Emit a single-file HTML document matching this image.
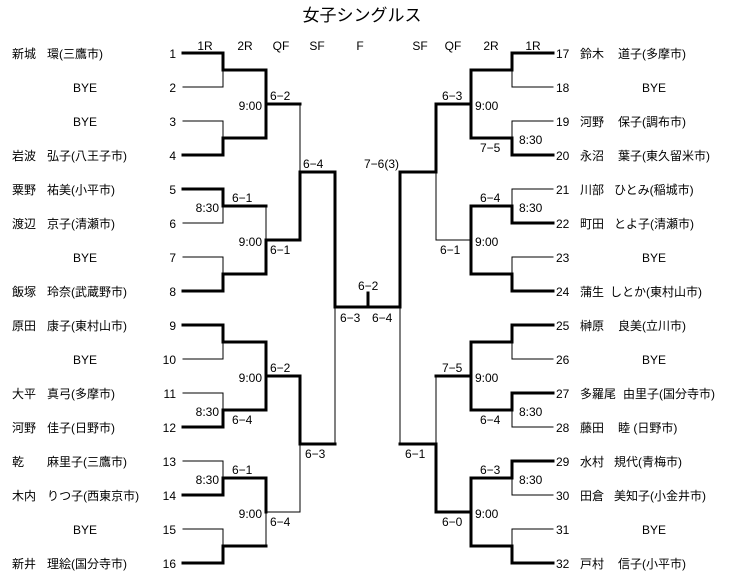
<!DOCTYPE html>
<html><head><meta charset="utf-8"><style>
html,body{margin:0;padding:0;background:#fff;}
svg{display:block;}
text{font-family:"Liberation Sans","Noto Sans CJK JP",sans-serif;font-size:12px;fill:#000;}
.t{font-size:17px;}
</style></head><body>
<svg width="734" height="586" viewBox="0 0 734 586" xmlns="http://www.w3.org/2000/svg">
<text class="t" x="362" y="21" text-anchor="middle">女子シングルス</text>
<g text-anchor="middle">
<text x="205" y="50">1R</text><text x="245" y="50">2R</text><text x="281" y="50">QF</text><text x="317" y="50">SF</text><text x="360" y="50">F</text>
<text x="420" y="50">SF</text><text x="453" y="50">QF</text><text x="491" y="50">2R</text><text x="533" y="50">1R</text>
</g>
<g stroke="#000" fill="none" stroke-linecap="square" shape-rendering="crispEdges">
<g stroke-width="3">
<path d="M183 53H223M183 155H223M183 189H223M183 291H223M183 325H223M183 427H223M183 495H223M183 563H223"/>
<path d="M223 53V70M223 138V155M223 189V206M223 274V291M223 325V342M223 410V427M223 478V495M223 546V563"/>
<path d="M223 70H266M223 138H266M223 206H266M223 274H266M223 342H266M223 410H266M223 478H266M223 546H266"/>
<path d="M266 70V138M266 240V274M266 342V410M266 478V512"/>
<path d="M266 104H300M266 240H300M266 376H300"/>
<path d="M300 172V240M300 376V444M300 172H335M300 444H335M335 172V307M335 307H400M368 293V307"/>
</g>
<g stroke-width="1">
<path d="M183 87H223M183 121H223M183 223H223M183 257H223M183 359H223M183 393H223M183 461H223M183 529H223"/>
<path d="M223 70V87M223 121V138M223 206V223M223 257V274M223 342V359M223 393V410M223 461V478M223 529V546"/>
<path d="M266 206V240M266 512V546M266 512H300M300 104V172M300 444V512M335 307V444"/>
</g>
<g stroke-width="3">
<path d="M512 53H553M512 155H553M512 223H553M512 291H553M512 325H553M512 393H553M512 461H553M512 563H553"/>
<path d="M512 53V70M512 138V155M512 206V223M512 274V291M512 325V342M512 393V410M512 461V478M512 546V563"/>
<path d="M471 70H512M471 138H512M471 206H512M471 274H512M471 342H512M471 410H512M471 478H512M471 546H512"/>
<path d="M471 70V138M471 206V274M471 342V410M471 478V546"/>
<path d="M436 104H471M436 376H471M436 512H471"/>
<path d="M436 104V172M436 444V512M400 172H436M400 444H436M400 172V307"/>
</g>
<g stroke-width="1">
<path d="M512 87H553M512 121H553M512 189H553M512 257H553M512 359H553M512 427H553M512 495H553M512 529H553"/>
<path d="M512 70V87M512 121V138M512 189V206M512 257V274M512 342V359M512 410V427M512 478V495M512 529V546"/>
<path d="M436 240H471M436 172V240M436 376V444M400 307V444"/>
</g>
</g>
<g text-anchor="end">
<text x="176" y="58">1</text><text x="176" y="92">2</text><text x="176" y="126">3</text><text x="176" y="160">4</text>
<text x="176" y="194">5</text><text x="176" y="228">6</text><text x="176" y="262">7</text><text x="176" y="296">8</text>
<text x="176" y="330">9</text><text x="176" y="364">10</text><text x="176" y="398">11</text><text x="176" y="432">12</text>
<text x="176" y="466">13</text><text x="176" y="500">14</text><text x="176" y="534">15</text><text x="176" y="568">16</text>
</g>
<g>
<text x="556" y="58">17</text><text x="556" y="92">18</text><text x="556" y="126">19</text><text x="556" y="160">20</text>
<text x="556" y="194">21</text><text x="556" y="228">22</text><text x="556" y="262">23</text><text x="556" y="296">24</text>
<text x="556" y="330">25</text><text x="556" y="364">26</text><text x="556" y="398">27</text><text x="556" y="432">28</text>
<text x="556" y="466">29</text><text x="556" y="500">30</text><text x="556" y="534">31</text><text x="556" y="568">32</text>
</g>
<g>
<text x="12" y="58">新城</text><text x="47" y="58">環(三鷹市)</text>
<text x="73" y="92">BYE</text><text x="73" y="126">BYE</text>
<text x="12" y="160">岩波</text><text x="47" y="160">弘子(八王子市)</text>
<text x="12" y="194">粟野</text><text x="47" y="194">祐美(小平市)</text>
<text x="12" y="228">渡辺</text><text x="47" y="228">京子(清瀬市)</text>
<text x="73" y="262">BYE</text>
<text x="12" y="296">飯塚</text><text x="47" y="296">玲奈(武蔵野市)</text>
<text x="12" y="330">原田</text><text x="47" y="330">康子(東村山市)</text>
<text x="73" y="364">BYE</text>
<text x="12" y="398">大平</text><text x="47" y="398">真弓(多摩市)</text>
<text x="12" y="432">河野</text><text x="47" y="432">佳子(日野市)</text>
<text x="12" y="466">乾</text><text x="47" y="466">麻里子(三鷹市)</text>
<text x="12" y="500">木内</text><text x="47" y="500">りつ子(西東京市)</text>
<text x="73" y="534">BYE</text>
<text x="12" y="568">新井</text><text x="47" y="568">理絵(国分寺市)</text>
</g>
<g>
<text x="580" y="58">鈴木</text><text x="618" y="58">道子(多摩市)</text>
<text x="642" y="92">BYE</text>
<text x="580" y="126">河野</text><text x="618" y="126">保子(調布市)</text>
<text x="580" y="160">永沼</text><text x="618" y="160">葉子(東久留米市)</text>
<text x="580" y="194">川部</text><text x="614" y="194">ひとみ(稲城市)</text>
<text x="580" y="228">町田</text><text x="614" y="228">とよ子(清瀬市)</text>
<text x="642" y="262">BYE</text>
<text x="580" y="296">蒲生</text><text x="610" y="296">しとか(東村山市)</text>
<text x="580" y="330">榊原</text><text x="618" y="330">良美(立川市)</text>
<text x="642" y="364">BYE</text>
<text x="580" y="398">多羅尾</text><text x="623" y="398">由里子(国分寺市)</text>
<text x="580" y="432">藤田</text><text x="618" y="432">睦 (日野市)</text>
<text x="580" y="466">水村</text><text x="614" y="466">規代(青梅市)</text>
<text x="580" y="500">田倉</text><text x="614" y="500">美知子(小金井市)</text>
<text x="642" y="534">BYE</text>
<text x="580" y="568">戸村</text><text x="618" y="568">信子(小平市)</text>
</g>
<g text-anchor="end">
<text x="262" y="110">9:00</text><text x="262" y="246">9:00</text><text x="262" y="382">9:00</text><text x="262" y="518">9:00</text>
<text x="219" y="212">8:30</text><text x="219" y="416">8:30</text><text x="219" y="484">8:30</text>
<text x="399" y="168">7−6(3)</text>
</g>
<g>
<text x="475" y="110">9:00</text><text x="475" y="246">9:00</text><text x="475" y="382">9:00</text><text x="475" y="518">9:00</text>
<text x="519" y="144">8:30</text><text x="519" y="212">8:30</text><text x="519" y="416">8:30</text><text x="519" y="484">8:30</text>
<text x="270" y="100">6−2</text><text x="232" y="202">6−1</text><text x="270" y="254">6−1</text><text x="303" y="168">6−4</text>
<text x="270" y="372">6−2</text><text x="232" y="424">6−4</text><text x="232" y="474">6−1</text><text x="270" y="526">6−4</text>
<text x="305" y="458">6−3</text>
<text x="358" y="290">6−2</text><text x="340" y="322">6−3</text><text x="372" y="322">6−4</text>
<text x="442" y="100">6−3</text><text x="480" y="152">7−5</text><text x="480" y="202">6−4</text><text x="440" y="254">6−1</text>
<text x="442" y="372">7−5</text><text x="480" y="424">6−4</text><text x="405" y="458">6−1</text><text x="480" y="474">6−3</text>
<text x="442" y="526">6−0</text>
</g>
</svg>
</body></html>
